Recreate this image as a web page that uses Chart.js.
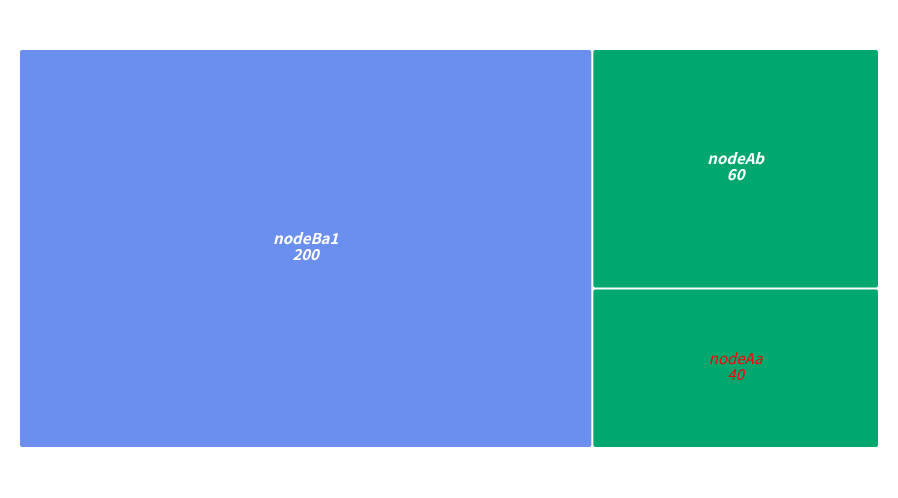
<!DOCTYPE html>
<html>
<head>
<meta charset="utf-8">
<script src="https://cdn.jsdelivr.net/npm/chart.js@4/dist/chart.umd.min.js"></script>
<style>
  html, body { margin: 0; padding: 0; background: #ffffff; }
  #wrap { width: 898px; height: 498px; }
</style>
</head>
<body>
<div id="wrap"><canvas id="c" width="898" height="498"></canvas></div>
<script>
// ---- data ----
const groupNames = ['nodeA', 'nodeB'];
const leafLabels = ['nodeAa', 'nodeAb', 'nodeBa1'];
const leafGroups = ['nodeA', 'nodeA', 'nodeB'];
const leafValues = [40, 60, 200];

// ---- styles ----
const groupColors = { nodeA: '#00a870', nodeB: '#6b8fee' };
const labelStyles = {
  nodeAa: { color: '#ff0000', weight: 'normal' }
};
const defaultLabelStyle = { color: '#ffffff', weight: 'bold' };

function worst(row, side, areaScale) {
  const s = row.reduce((a, b) => a + b.v, 0) * areaScale;
  let mx = 0, mn = Infinity;
  row.forEach(r => { const a = r.v * areaScale; mx = Math.max(mx, a); mn = Math.min(mn, a); });
  return Math.max((side * side * mx) / (s * s), (s * s) / (side * side * mn));
}
function squarify(items, rect, out) {
  let remaining = items.slice();
  let r = Object.assign({}, rect);
  const total = items.reduce((a, b) => a + b.v, 0);
  if (!total) return;
  const areaScale = (r.w * r.h) / total;
  while (remaining.length) {
    const side = Math.min(r.w, r.h);
    let row = [remaining[0]];
    let i = 1;
    while (i < remaining.length) {
      const next = row.concat([remaining[i]]);
      if (worst(next, side, areaScale) <= worst(row, side, areaScale)) { row = next; i++; }
      else break;
    }
    remaining = remaining.slice(row.length);
    const rowArea = row.reduce((a, b) => a + b.v, 0) * areaScale;
    if (r.w >= r.h) {
      const cw = rowArea / r.h;
      let yy = r.y;
      row.forEach(it => { const ch = it.v * areaScale / cw; out.push({ key: it.key, x: r.x, y: yy, w: cw, h: ch }); yy += ch; });
      r = { x: r.x + cw, y: r.y, w: r.w - cw, h: r.h };
    } else {
      const ch = rowArea / r.w;
      let xx = r.x;
      row.forEach(it => { const cw = it.v * areaScale / ch; out.push({ key: it.key, x: xx, y: r.y, w: cw, h: ch }); xx += cw; });
      r = { x: r.x, y: r.y + ch, w: r.w, h: r.h - ch };
    }
  }
}

const TOTAL_W = leafValues.reduce((a, b) => a + b, 0);
const TOTAL_H = 100;

// layout computed in a rect with the plot's pixel aspect, returned in data units
function computeLayout(aspect) {
  const vw = TOTAL_W, vh = TOTAL_W * aspect;
  const groups = groupNames.map(g => ({
    key: g,
    v: leafValues.reduce((a, v, i) => a + (leafGroups[i] === g ? v : 0), 0)
  })).sort((a, b) => b.v - a.v);
  const gRects = [];
  squarify(groups, { x: 0, y: 0, w: vw, h: vh }, gRects);
  const leafRects = new Array(leafLabels.length);
  gRects.forEach(gr => {
    const kids = leafLabels.map((l, i) => ({ key: i, v: leafValues[i], g: leafGroups[i] }))
      .filter(k => k.g === gr.key).sort((a, b) => b.v - a.v);
    const out = [];
    squarify(kids, gr, out);
    out.forEach(o => { leafRects[o.key] = { x: o.x, w: o.w, y: o.y * TOTAL_H / vh, h: o.h * TOTAL_H / vh }; });
  });
  return leafRects;
}

class TreemapController extends Chart.DatasetController {
  parse(start, count) {
    const data = this.getDataset().data;
    const meta = this._cachedMeta;
    for (let i = start; i < start + count; i++) {
      meta._parsed[i] = { x: i, y: +data[i] };
    }
  }
  getMinMax(scale) {
    return scale.axis === 'x' ? { min: 0, max: TOTAL_W } : { min: 0, max: TOTAL_H };
  }
  update(mode) {
    const meta = this._cachedMeta;
    this.updateElements(meta.data, 0, meta.data.length, mode);
  }
  updateElements(rects, start, count, mode) {
    const meta = this._cachedMeta;
    const xs = meta.xScale, ys = meta.yScale;
    const area = this.chart.chartArea;
    const layout = computeLayout((area.bottom - area.top) / (area.right - area.left));
    const gap = 1;
    for (let i = start; i < start + count; i++) {
      const L = layout[i];
      const x0 = xs.getPixelForValue(L.x) + gap;
      const x1 = xs.getPixelForValue(L.x + L.w) - gap;
      const y0 = ys.getPixelForValue(L.y) + gap;
      const y1 = ys.getPixelForValue(L.y + L.h) - gap;
      this.updateElement(rects[i], i, {
        x: (x0 + x1) / 2,
        y: Math.min(y0, y1),
        base: Math.max(y0, y1),
        width: Math.abs(x1 - x0),
        height: Math.abs(y1 - y0),
        horizontal: false,
        inflateAmount: 0,
        enableBorderRadius: true,
        borderSkipped: { top: false, bottom: false, left: false, right: false },
        options: {
          backgroundColor: groupColors[leafGroups[i]],
          borderColor: 'rgba(0,0,0,0)',
          borderWidth: 0,
          borderRadius: 2
        }
      }, mode);
    }
  }
  draw() {
    const ctx = this.chart.ctx;
    this._cachedMeta.data.forEach(el => el.draw(ctx));
  }
}
TreemapController.id = 'treemap';
TreemapController.defaults = { datasetElementType: false, dataElementType: 'bar' };
Chart.register(TreemapController);

const labelPlugin = {
  id: 'cellLabels',
  afterDatasetsDraw(chart) {
    const ctx = chart.ctx;
    const meta = chart.getDatasetMeta(0);
    meta.data.forEach((el, i) => {
      const st = labelStyles[leafLabels[i]] || defaultLabelStyle;
      const cx = el.x;
      const cy = (el.y + el.base) / 2;
      ctx.save();
      ctx.fillStyle = st.color;
      ctx.font = 'italic ' + (st.weight === 'bold' ? 'bold' : 'normal') + ' 15px "Noto Sans CJK SC", sans-serif';
      ctx.textAlign = 'center';
      ctx.textBaseline = 'middle';
      ctx.fillText(leafLabels[i], cx, cy - 10);
      ctx.fillText(String(leafValues[i]), cx, cy + 6);
      ctx.restore();
    });
  }
};

new Chart(document.getElementById('c'), {
  type: 'treemap',
  data: {
    labels: leafLabels,
    datasets: [{ data: leafValues }]
  },
  options: {
    responsive: false,
    animation: false,
    layout: { padding: { left: 19, right: 19, top: 49, bottom: 50 } },
    scales: {
      x: { type: 'linear', display: false, min: 0, max: TOTAL_W },
      y: { type: 'linear', display: false, min: 0, max: TOTAL_H, reverse: true }
    },
    plugins: { legend: { display: false }, tooltip: { enabled: false } }
  },
  plugins: [labelPlugin]
});
</script>
</body>
</html>
